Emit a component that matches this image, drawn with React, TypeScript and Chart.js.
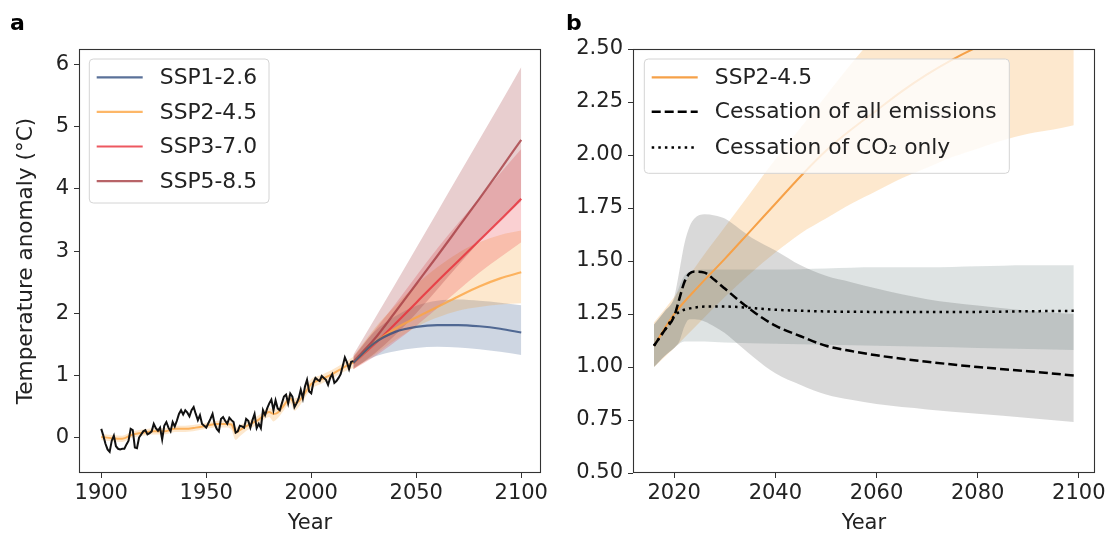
import React, { useEffect, useRef } from "react";
import { Chart, registerables } from "chart.js";
Chart.register(...registerables);

const FONT = "'DejaVu Sans', sans-serif";
const TXT = "#222222";

// ---------------- Panel a data ----------------
const OBS_START = 1900;
const obsValues = [
  0.14, 0.03, -0.1, -0.19, -0.23, -0.05, 0.03, -0.14, -0.18, -0.19,
  -0.18, -0.18, -0.11, -0.05, 0.14, 0.12, -0.16, -0.17, 0.0, 0.05,
  0.1, 0.12, 0.05, 0.07, 0.1, 0.22, 0.15, 0.11, 0.16, -0.03,
  0.19, 0.25, 0.16, 0.1, 0.25, 0.18, 0.27, 0.38, 0.44, 0.37,
  0.44, 0.4, 0.34, 0.44, 0.49, 0.38, 0.28, 0.36, 0.22, 0.19,
  0.16, 0.23, 0.3, 0.38, 0.22, 0.14, 0.1, 0.3, 0.33, 0.27,
  0.22, 0.32, 0.28, 0.25, 0.08, 0.1, 0.19, 0.18, 0.16, 0.3,
  0.27, 0.16, 0.28, 0.38, 0.15, 0.22, 0.15, 0.44, 0.36, 0.47,
  0.55, 0.61, 0.44, 0.6, 0.47, 0.44, 0.55, 0.66, 0.69, 0.55,
  0.71, 0.66, 0.49, 0.55, 0.63, 0.77, 0.63, 0.82, 0.93, 0.74,
  0.71, 0.88, 0.96, 0.93, 0.91, 0.99, 0.96, 0.93, 0.85, 0.96,
  1.02, 0.88, 0.91, 0.96, 1.02, 1.15, 1.29, 1.21, 1.1, 1.22,
  1.23,
];

const histYears = [1900, 1905, 1910, 1915, 1920, 1925, 1930, 1935, 1940, 1945, 1950, 1955, 1960, 1962, 1964, 1966, 1970, 1975, 1980, 1982, 1984, 1987, 1990, 1992, 1994, 1997, 2000, 2005, 2010, 2015, 2020];
const histMid = [0.01, -0.01, -0.02, 0.05, 0.08, 0.1, 0.1, 0.14, 0.14, 0.16, 0.19, 0.22, 0.22, 0.21, 0.08, 0.12, 0.2, 0.29, 0.41, 0.38, 0.4, 0.52, 0.63, 0.55, 0.58, 0.72, 0.86, 0.94, 1.02, 1.12, 1.21];
const histLo = [-0.04, -0.06, -0.07, 0.0, 0.03, 0.05, 0.05, 0.09, 0.09, 0.11, 0.14, 0.16, 0.16, 0.12, -0.04, 0.02, 0.13, 0.22, 0.33, 0.26, 0.31, 0.44, 0.55, 0.43, 0.49, 0.64, 0.78, 0.87, 0.95, 1.05, 1.12];
const histHi = [0.06, 0.04, 0.03, 0.1, 0.13, 0.15, 0.15, 0.19, 0.19, 0.21, 0.24, 0.27, 0.28, 0.27, 0.16, 0.2, 0.27, 0.36, 0.48, 0.45, 0.47, 0.59, 0.7, 0.63, 0.66, 0.8, 0.94, 1.01, 1.09, 1.19, 1.3];

const futYears = [2020, 2030, 2040, 2050, 2060, 2070, 2080, 2090, 2100];
const ssp126 = [1.2, 1.52, 1.7, 1.78, 1.81, 1.81, 1.79, 1.75, 1.69];
const ssp126Lo = [1.12, 1.3, 1.39, 1.44, 1.46, 1.45, 1.42, 1.38, 1.33];
const ssp126Hi = [1.28, 1.7, 1.95, 2.12, 2.2, 2.22, 2.2, 2.17, 2.13];
const ssp245 = [1.2, 1.52, 1.75, 1.93, 2.1, 2.27, 2.43, 2.56, 2.66];
const ssp245Lo = [1.1, 1.33, 1.57, 1.78, 1.93, 2.04, 2.1, 2.14, 2.16];
const ssp245Hi = [1.3, 1.75, 2.12, 2.46, 2.74, 2.97, 3.14, 3.26, 3.33];
const ssp370 = [1.2, 1.5, 1.83, 2.17, 2.51, 2.84, 3.17, 3.5, 3.84];
const ssp370Lo = [1.1, 1.3, 1.54, 1.8, 2.08, 2.37, 2.65, 2.9, 3.14];
const ssp370Hi = [1.3, 1.72, 2.15, 2.6, 3.04, 3.45, 3.85, 4.25, 4.64];
const ssp585 = [1.22, 1.58, 2.02, 2.47, 2.92, 3.38, 3.84, 4.31, 4.79];
const ssp585Lo = [1.1, 1.35, 1.65, 2.0, 2.38, 2.77, 3.15, 3.5, 3.8];
const ssp585Hi = [1.33, 1.9, 2.47, 3.05, 3.63, 4.21, 4.79, 5.37, 5.96];

const aXTicks = [1900, 1950, 2000, 2050, 2100];
const aYTicks = [0, 1, 2, 3, 4, 5, 6];
const aLegend = ["SSP1-2.6", "SSP2-4.5", "SSP3-7.0", "SSP5-8.5"];

// ---------------- Panel b data ----------------
const bSspYears = [2016, 2020, 2025, 2030, 2035, 2040, 2045, 2050, 2055, 2060, 2065, 2070, 2075, 2080, 2085, 2090, 2095, 2099];
const bSsp = [1.1, 1.25, 1.385, 1.51, 1.64, 1.77, 1.9, 2.02, 2.12, 2.21, 2.3, 2.38, 2.45, 2.51, 2.56, 2.61, 2.64, 2.67];
const bSspLo = [1.0, 1.09, 1.21, 1.33, 1.44, 1.54, 1.63, 1.7, 1.77, 1.83, 1.89, 1.94, 1.99, 2.03, 2.07, 2.1, 2.12, 2.14];
const bSspHi = [1.21, 1.33, 1.5, 1.66, 1.82, 1.98, 2.13, 2.28, 2.43, 2.57, 2.7, 2.82, 2.93, 3.03, 3.12, 3.2, 3.26, 3.3];

const bAllYears = [2016, 2018, 2020, 2021, 2022, 2023, 2024, 2026, 2028, 2030, 2033, 2036, 2040, 2045, 2050, 2055, 2060, 2070, 2080, 2090, 2099];
const bAll = [1.1, 1.17, 1.24, 1.32, 1.4, 1.44, 1.45, 1.445, 1.41, 1.37, 1.31, 1.255, 1.195, 1.145, 1.1, 1.075, 1.055, 1.025, 1.0, 0.98, 0.96];
const bAllLo = [1.0, 1.05, 1.09, 1.12, 1.19, 1.225, 1.225, 1.215, 1.19, 1.16, 1.1, 1.04, 0.97, 0.915, 0.87, 0.845, 0.825, 0.8, 0.78, 0.76, 0.74];
const bAllHi = [1.2, 1.26, 1.33, 1.45, 1.58, 1.66, 1.7, 1.72, 1.715, 1.7, 1.65, 1.6, 1.55, 1.48, 1.43, 1.4, 1.37, 1.32, 1.29, 1.265, 1.25];

const bCo2Years = [2016, 2018, 2020, 2021, 2022, 2024, 2026, 2030, 2040, 2050, 2060, 2070, 2080, 2090, 2099];
const bCo2 = [1.1, 1.17, 1.24, 1.26, 1.27, 1.28, 1.285, 1.285, 1.27, 1.262, 1.26, 1.26, 1.26, 1.263, 1.265];
const bCo2Lo = [1.0, 1.05, 1.09, 1.11, 1.12, 1.12, 1.12, 1.115, 1.11, 1.105, 1.1, 1.095, 1.09, 1.085, 1.08];
const bCo2Hi = [1.2, 1.26, 1.32, 1.38, 1.43, 1.455, 1.46, 1.46, 1.46, 1.465, 1.47, 1.47, 1.475, 1.48, 1.48];

const bXTicks = [2020, 2040, 2060, 2080, 2100];
const bYTicks = [0.5, 0.75, 1.0, 1.25, 1.5, 1.75, 2.0, 2.25, 2.5];
const bLegend = ["SSP2-4.5", "Cessation of all emissions", "Cessation of CO\u2082 only"];

// ---------------- colours ----------------
const C1 = "rgba(49, 77, 128, 0.8)";
const C2 = "rgba(252, 165, 66, 0.8)";
const C3 = "rgba(232, 46, 56, 0.8)";
const C5 = "rgba(166, 61, 66, 0.8)";
const B1 = "rgba(59, 91, 138, 0.25)";
const B2 = "rgba(247, 148, 30, 0.22)";
const B3 = "rgba(230, 40, 50, 0.22)";
const B5 = "rgba(150, 30, 35, 0.22)";
const ORANGE_B = "#f6a148";
const GREY_ALL = "rgba(128, 128, 128, 0.3)";
const GREY_CO2 = "rgba(47, 79, 79, 0.16)";

const pts = (xs: number[], ys: number[]) => xs.map((x, i) => ({ x, y: ys[i] }));

function makeBuilder() {
  const ds: any[] = [];
  const line = (data: any[], color: string, width: number, order: number, dash: number[] = [], smooth = true) =>
    ds.push({
      data, borderColor: color, borderWidth: width, borderDash: dash, pointRadius: 0, fill: false, order,
      backgroundColor: "transparent",
      cubicInterpolationMode: smooth ? "monotone" : "default", tension: 0, borderCapStyle: "butt",
    });
  const band = (lo: any[], hi: any[], color: string, order: number) => {
    ds.push({ data: lo, borderWidth: 0, pointRadius: 0, fill: false, order, backgroundColor: "transparent", cubicInterpolationMode: "monotone" });
    ds.push({ data: hi, borderWidth: 0, pointRadius: 0, fill: "-1", order, backgroundColor: color, cubicInterpolationMode: "monotone" });
  };
  return { ds, line, band };
}

type LegendItem = { label: string; color: string; dash: number[]; width: number; dy: number };

function overlayPlugin(opts: {
  letter: string; letterX: number;
  box: { x: number; y: number; w: number; h: number };
  items: LegendItem[];
}) {
  return {
    id: "overlay",
    afterDatasetsDraw(chart: any) {
      const { ctx, chartArea: a } = chart;
      ctx.save();
      ctx.strokeStyle = "#333333";
      ctx.lineWidth = 1.1;
      ctx.strokeRect(Math.round(a.left) + 0.5, Math.round(a.top) + 0.5, Math.round(a.right - a.left) - 1, Math.round(a.bottom - a.top) - 1);
      ctx.restore();
    },
    afterDraw(chart: any) {
      const ctx = chart.ctx;
      const { x, y, w, h } = opts.box;
      ctx.save();
      const r = 4;
      ctx.beginPath();
      ctx.moveTo(x + r, y);
      ctx.lineTo(x + w - r, y);
      ctx.arcTo(x + w, y, x + w, y + r, r);
      ctx.lineTo(x + w, y + h - r);
      ctx.arcTo(x + w, y + h, x + w - r, y + h, r);
      ctx.lineTo(x + r, y + h);
      ctx.arcTo(x, y + h, x, y + h - r, r);
      ctx.lineTo(x, y + r);
      ctx.arcTo(x, y, x + r, y, r);
      ctx.closePath();
      ctx.fillStyle = "rgba(255,255,255,0.8)";
      ctx.fill();
      ctx.strokeStyle = "#d4d4d4";
      ctx.lineWidth = 1;
      ctx.stroke();
      ctx.font = `21.8px ${FONT}`;
      ctx.textBaseline = "middle";
      ctx.textAlign = "left";
      opts.items.forEach((it) => {
        const yy = y + it.dy;
        ctx.beginPath();
        ctx.setLineDash(it.dash);
        ctx.strokeStyle = it.color;
        ctx.lineWidth = it.width;
        ctx.lineCap = "butt";
        ctx.moveTo(x + 7.4, yy);
        ctx.lineTo(x + 53.4, yy);
        ctx.stroke();
        ctx.setLineDash([]);
        ctx.fillStyle = TXT;
        ctx.fillText(it.label, x + 70.5, yy + 1);
      });
      ctx.font = `bold 22px ${FONT}`;
      ctx.textBaseline = "alphabetic";
      ctx.fillStyle = "#000";
      ctx.fillText(opts.letter, opts.letterX, 30);
      ctx.restore();
    },
  };
}

function axis(min: number, max: number, ticks: number[], fmt: (v: number) => string, isX: boolean, fit: number, title: string | null) {
  return {
    type: "linear",
    min, max,
    afterBuildTicks: (s: any) => { s.ticks = ticks.map((v) => ({ value: v })); },
    afterFit: (s: any) => { if (isX) s.height = fit; else s.width = fit; },
    grid: { display: true, drawOnChartArea: false, drawTicks: true, tickLength: 5, tickColor: "#333333", tickWidth: 1 },
    border: { display: false },
    ticks: {
      color: TXT, font: { family: FONT, size: 21 }, padding: isX ? 3 : 5,
      callback: (v: any) => fmt(Number(v)), maxRotation: 0, minRotation: 0, autoSkip: false,
    },
    title: title
      ? { display: true, text: title, color: TXT, font: { family: FONT, size: isX ? 21 : 21.6 }, padding: isX ? { top: 0, bottom: 1 } : { top: 13, bottom: 0 } }
      : { display: false },
  };
}

function buildA(canvas: HTMLCanvasElement) {
  const { ds, line, band } = makeBuilder();
  line(obsValues.map((v, i) => ({ x: OBS_START + i, y: v })), "#111111", 2, 0, [], false);
  line(pts(histYears, histMid), C2, 2, 1);
  line(pts(futYears, ssp126), C1, 2.2, 2);
  line(pts(futYears, ssp245), C2, 2.2, 2);
  line(pts(futYears, ssp370), C3, 2.2, 2);
  line(pts(futYears, ssp585), C5, 2.2, 2);
  band(pts(histYears, histLo), pts(histYears, histHi), B2, 10);
  band(pts(futYears, ssp126Lo), pts(futYears, ssp126Hi), B1, 14);
  band(pts(futYears, ssp245Lo), pts(futYears, ssp245Hi), B2, 13);
  band(pts(futYears, ssp370Lo), pts(futYears, ssp370Hi), B3, 12);
  band(pts(futYears, ssp585Lo), pts(futYears, ssp585Hi), B5, 11);

  return new Chart(canvas, {
    type: "line",
    data: { datasets: ds },
    options: {
      responsive: false, animation: false, events: [],
      layout: { padding: { left: 0, top: 49, right: 19, bottom: 0 } },
      plugins: { legend: { display: false }, tooltip: { enabled: false } },
      scales: {
        x: axis(1889.4, 2109.4, aXTicks, (v) => String(v), true, 64, "Year"),
        y: axis(-0.57, 6.25, aYTicks, (v) => String(v), false, 79, "Temperature anomaly (\u00B0C)"),
      },
    } as any,
    plugins: [
      overlayPlugin({
        letter: "a", letterX: 10,
        box: { x: 89.3, y: 59, w: 179.7, h: 144 },
        items: [
          { label: aLegend[0], color: C1, dash: [], width: 2.2, dy: 18.3 },
          { label: aLegend[1], color: C2, dash: [], width: 2.2, dy: 52.9 },
          { label: aLegend[2], color: C3, dash: [], width: 2.2, dy: 87.5 },
          { label: aLegend[3], color: C5, dash: [], width: 2.2, dy: 122.1 },
        ],
      }),
    ] as any,
  });
}

function buildB(canvas: HTMLCanvasElement) {
  const { ds, line, band } = makeBuilder();
  line(pts(bCo2Years, bCo2), "#000000", 2.5, 0, [2.5, 4.1]);
  line(pts(bAllYears, bAll), "#000000", 2.5, 1, [9, 4]);
  line(pts(bSspYears, bSsp), ORANGE_B, 2, 2);
  band(pts(bSspYears, bSspLo), pts(bSspYears, bSspHi), B2, 12);
  band(pts(bAllYears, bAllLo), pts(bAllYears, bAllHi), GREY_ALL, 11);
  band(pts(bCo2Years, bCo2Lo), pts(bCo2Years, bCo2Hi), GREY_CO2, 10);

  return new Chart(canvas, {
    type: "line",
    data: { datasets: ds },
    options: {
      responsive: false, animation: false, events: [],
      layout: { padding: { left: 0, top: 49, right: 13, bottom: 0 } },
      plugins: { legend: { display: false }, tooltip: { enabled: false } },
      scales: {
        x: axis(2011.85, 2103.15, bXTicks, (v) => String(v), true, 64, "Year"),
        y: axis(0.5, 2.5, bYTicks, (v) => v.toFixed(2), false, 73, null),
      },
    } as any,
    plugins: [
      overlayPlugin({
        letter: "b", letterX: 6,
        box: { x: 84.3, y: 59, w: 365, h: 114.3 },
        items: [
          { label: bLegend[0], color: ORANGE_B, dash: [], width: 2.2, dy: 18.3 },
          { label: bLegend[1], color: "#000000", dash: [9, 4], width: 2.5, dy: 52.8 },
          { label: bLegend[2], color: "#000000", dash: [2.5, 4.1], width: 2.5, dy: 88.5 },
        ],
      }),
    ] as any,
  });
}

function Panel({ left, width, build }: { left: number; width: number; build: (c: HTMLCanvasElement) => Chart }) {
  const ref = useRef<HTMLCanvasElement>(null);
  useEffect(() => {
    const ch = build(ref.current as HTMLCanvasElement);
    return () => ch.destroy();
  }, []);
  return (
    <canvas
      ref={ref}
      width={width}
      height={537}
      style={{ position: "absolute", left, top: 0, width, height: 537, display: "block" }}
    />
  );
}

export default function App() {
  return (
    <div style={{ position: "absolute", left: 0, top: 0, width: 1109, height: 537, background: "#fff", overflow: "hidden" }}>
      <Panel left={0} width={560} build={buildA} />
      <Panel left={560} width={549} build={buildB} />
    </div>
  );
}
